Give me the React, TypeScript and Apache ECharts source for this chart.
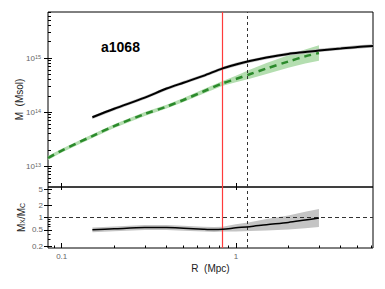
import React, { useEffect, useRef } from 'react';
import * as echarts from 'echarts';

// ---- axis extents / ticks ----
const X_MIN = 0.0834;
const X_MAX = 6.13;
const X_MAJOR = [0.1, 1];
const X_MINOR = [0.09, 0.2, 0.3, 0.4, 0.5, 0.6, 0.7, 0.8, 0.9, 2, 3, 4, 5, 6];
const Y_TOP_MIN = 4.1e12;
const Y_TOP_MAX = 7.1e15;
const Y_TOP_MAJOR = [1e13, 1e14, 1e15];
const Y_TOP_MINOR = [
  5e12, 6e12, 7e12, 8e12, 9e12,
  2e13, 3e13, 4e13, 5e13, 6e13, 7e13, 8e13, 9e13,
  2e14, 3e14, 4e14, 5e14, 6e14, 7e14, 8e14, 9e14,
  2e15, 3e15, 4e15, 5e15, 6e15, 7e15,
];
const Y_BOT_MIN = 0.18;
const Y_BOT_MAX = 5.6;
const Y_BOT_MAJOR = [0.2, 0.5, 1, 2, 5];
const Y_BOT_MINOR = [0.3, 0.4, 0.6, 0.7, 0.8, 0.9, 3, 4];

// ---- reference lines ----
const R_RED = 0.838;
const R_DASH = 1.157;

// ---- X-ray mass (green dashed) ----
const R_X = [0.0834, 0.1, 0.15, 0.2, 0.3, 0.4, 0.5, 0.65, 0.84, 1.0, 1.2, 1.5, 2.0, 2.5, 3.0];
const M_X = [1.41e13, 1.94e13, 3.6e13, 5.5e13, 9.2e13, 1.26e14, 1.67e14, 2.4e14, 3.4e14, 4.08e14, 5.0e14, 6.4e14, 8.6e14, 1.07e15, 1.24e15];
const M_X_LO = [1.3e13, 1.79e13, 3.32e13, 5.08e13, 8.49e13, 1.16e14, 1.54e14, 2.19e14, 3.07e14, 3.55e14, 4.11e14, 5.08e14, 6.6e14, 7.93e14, 8.88e14];
const M_X_HI = [1.53e13, 2.1e13, 3.9e13, 5.96e13, 9.97e13, 1.37e14, 1.81e14, 2.63e14, 3.77e14, 4.68e14, 6.08e14, 8.06e14, 1.12e15, 1.44e15, 1.73e15];

// ---- caustic mass (black) ----
const R_C = [0.15, 0.2, 0.3, 0.4, 0.5, 0.65, 0.84, 1.0, 1.2, 1.5, 2.0, 2.5, 3.0, 4.0, 5.0, 6.13];
const M_C = [8.0e13, 1.15e14, 1.85e14, 2.72e14, 3.49e14, 4.66e14, 6.44e14, 7.58e14, 8.8e14, 1.02e15, 1.19e15, 1.29e15, 1.38e15, 1.5e15, 1.6e15, 1.67e15];
const M_C_LO = [7.46e13, 1.07e14, 1.73e14, 2.54e14, 3.26e14, 4.35e14, 6.01e14, 7.07e14, 8.21e14, 9.52e14, 1.11e15, 1.2e15, 1.29e15, 1.4e15, 1.49e15, 1.56e15];
const M_C_HI = [8.58e13, 1.23e14, 1.98e14, 2.92e14, 3.74e14, 5.0e14, 6.9e14, 8.13e14, 9.43e14, 1.09e15, 1.28e15, 1.38e15, 1.48e15, 1.61e15, 1.72e15, 1.79e15];

// ---- ratio Mx / Mc ----
const R_RATIO = [0.15, 0.2, 0.3, 0.4, 0.5, 0.65, 0.75, 0.84, 1.0, 1.2, 1.5, 2.0, 2.5, 3.0];
const RATIO = [0.5, 0.53, 0.57, 0.57, 0.55, 0.52, 0.51, 0.52, 0.56, 0.6, 0.67, 0.76, 0.87, 0.97];
const RATIO_LO = [0.435, 0.462, 0.496, 0.496, 0.479, 0.453, 0.444, 0.453, 0.455, 0.466, 0.485, 0.514, 0.549, 0.585];
const RATIO_HI = [0.574, 0.608, 0.654, 0.654, 0.631, 0.597, 0.585, 0.597, 0.689, 0.773, 0.925, 1.124, 1.379, 1.61];

const FONT = 'Liberation Sans, Arial, Helvetica, sans-serif';
const LABEL_COLOR = '#666';

function pairs(xs: number[], ys: number[]) {
  return xs.map((x, i) => [x, ys[i]]);
}

function bandSeries(xs: number[], lo: number[], hi: number[], color: string, xi: number, yi: number) {
  return {
    type: 'custom', xAxisIndex: xi, yAxisIndex: yi, silent: true, z: 1,
    data: [[xs[0], lo[0]]],
    renderItem: (_params: any, api: any) => {
      const upper = xs.map((x, i) => api.coord([x, hi[i]]));
      const lower = xs.map((x, i) => api.coord([x, lo[i]])).reverse();
      return {
        type: 'polygon',
        shape: { points: upper.concat(lower) },
        style: { fill: color, stroke: 'none' },
      };
    },
  };
}

const vLines = () => [
  { xAxis: R_RED, lineStyle: { color: '#ff3b3b', width: 1.2, type: 'solid' } },
  { xAxis: R_DASH, lineStyle: { color: '#333', width: 1, type: [3, 3] } },
];

export default function App() {
  const ref = useRef<HTMLDivElement>(null);
  useEffect(() => {
    if (!ref.current) return;
    const chart = echarts.init(ref.current, null, { renderer: 'svg' });
    const tickLine = { color: '#000', width: 1 };
    const supLabel = {
      fontSize: 8, color: LABEL_COLOR, fontFamily: FONT,
      rich: {
        b: { fontSize: 8, color: LABEL_COLOR, fontFamily: FONT },
        s: { fontSize: 5.5, color: LABEL_COLOR, fontFamily: FONT, verticalAlign: 'top' },
      },
    };
    const option: any = {
      animation: false,
      textStyle: { fontFamily: FONT },
      title: {
        text: 'a1068', left: 96, top: 35,
        textStyle: { fontSize: 14, fontWeight: 'bold', color: '#000', fontFamily: FONT },
      },
      grid: [
        { left: 48, top: 12, right: 12, height: 175, show: true, borderColor: '#000', borderWidth: 1, backgroundColor: 'transparent', outerBoundsMode: 'none' },
        { left: 48, top: 187, right: 12, height: 61, show: true, borderColor: '#000', borderWidth: 1, backgroundColor: 'transparent', outerBoundsMode: 'none' },
      ],
      xAxis: [
        {
          gridIndex: 0, type: 'log', logBase: 10, min: X_MIN, max: X_MAX, position: 'bottom',
          axisLine: { show: false }, splitLine: { show: false },
          axisTick: { show: true, inside: true, length: 4, customValues: X_MAJOR, lineStyle: tickLine },
          axisLabel: { show: false },
        },
        {
          gridIndex: 1, type: 'log', logBase: 10, min: X_MIN, max: X_MAX, position: 'bottom',
          axisLine: { show: false }, splitLine: { show: false },
          axisTick: { show: true, inside: true, length: 5, customValues: X_MAJOR, lineStyle: tickLine },
          axisLabel: {
            show: true, customValues: X_MAJOR, margin: 4, fontSize: 8, color: LABEL_COLOR, fontFamily: FONT,
            formatter: (v: number) => (v >= 1 ? String(Math.round(v)) : String(Math.round(v * 10) / 10)),
          },
          name: 'R  (Mpc)', nameLocation: 'middle', nameGap: 15,
          nameTextStyle: { fontSize: 10, color: '#222', fontFamily: FONT },
        },
        {
          gridIndex: 1, type: 'log', logBase: 10, min: X_MIN, max: X_MAX, position: 'bottom',
          axisLine: { show: false }, splitLine: { show: false },
          axisTick: { show: true, inside: true, length: 2.5, customValues: X_MINOR, lineStyle: tickLine },
          axisLabel: { show: false },
        },
        {
          gridIndex: 1, type: 'log', logBase: 10, min: X_MIN, max: X_MAX, position: 'top',
          axisLine: { show: false }, splitLine: { show: false },
          axisTick: { show: true, inside: true, length: 3, customValues: X_MAJOR, lineStyle: tickLine },
          axisLabel: { show: false },
        },
      ],
      yAxis: [
        {
          gridIndex: 0, type: 'log', logBase: 10, min: Y_TOP_MIN, max: Y_TOP_MAX, position: 'left', offset: -4,
          axisLine: { show: false }, splitLine: { show: false },
          axisTick: { show: true, inside: false, length: 8, customValues: Y_TOP_MAJOR, lineStyle: tickLine },
          axisLabel: {
            ...supLabel, show: true, customValues: Y_TOP_MAJOR, margin: 11,
            formatter: (v: number) => '{b|10}{s|' + Math.round(Math.log10(v)) + '}',
          },
        },
        {
          gridIndex: 0, type: 'log', logBase: 10, min: Y_TOP_MIN, max: Y_TOP_MAX, position: 'left',
          axisLine: { show: false }, splitLine: { show: false },
          axisTick: { show: true, inside: true, length: 3, customValues: Y_TOP_MINOR, lineStyle: tickLine },
          axisLabel: { show: false },
          name: 'M  (Msol)', nameLocation: 'middle', nameGap: 24,
          nameTextStyle: { fontSize: 10, color: '#222', fontFamily: FONT },
        },
        {
          gridIndex: 1, type: 'log', logBase: 10, min: Y_BOT_MIN, max: Y_BOT_MAX, position: 'left', offset: -4,
          axisLine: { show: false }, splitLine: { show: false },
          axisTick: { show: true, inside: false, length: 8, customValues: Y_BOT_MAJOR, lineStyle: tickLine },
          axisLabel: {
            show: true, customValues: Y_BOT_MAJOR, margin: 9, fontSize: 8, color: LABEL_COLOR, fontFamily: FONT,
            formatter: (v: number) => String(Math.round(v * 10) / 10),
          },
        },
        {
          gridIndex: 1, type: 'log', logBase: 10, min: Y_BOT_MIN, max: Y_BOT_MAX, position: 'left',
          axisLine: { show: false }, splitLine: { show: false },
          axisTick: { show: true, inside: true, length: 2.5, customValues: Y_BOT_MINOR, lineStyle: tickLine },
          axisLabel: { show: false },
          name: 'M{s|X}/M{s|C}', nameLocation: 'middle', nameGap: 22,
          nameTextStyle: {
            fontSize: 10, color: '#222', fontFamily: FONT,
            rich: { s: { fontSize: 7, color: '#222', fontFamily: FONT, verticalAlign: 'bottom' } },
          },
        },
      ],
      series: [
        bandSeries(R_X, M_X_LO, M_X_HI, '#b4deb0', 0, 0),
        bandSeries(R_C, M_C_LO, M_C_HI, '#bdbdbd', 0, 0),
        bandSeries(R_RATIO, RATIO_LO, RATIO_HI, '#c4c4c4', 1, 2),
        {
          name: 'Mc', type: 'line', xAxisIndex: 0, yAxisIndex: 0, data: pairs(R_C, M_C),
          symbol: 'none', smooth: 0.3, lineStyle: { color: '#000', width: 2 }, z: 3,
          markLine: { silent: true, symbol: ['none', 'none'], label: { show: false }, data: vLines(), z: 2 },
        },
        {
          name: 'Mx', type: 'line', xAxisIndex: 0, yAxisIndex: 0, data: pairs(R_X, M_X),
          symbol: 'none', smooth: 0.3, lineStyle: { color: '#2b8a2b', width: 2.5, type: [7, 5] }, z: 4,
        },
        {
          name: 'ratio', type: 'line', xAxisIndex: 1, yAxisIndex: 2, data: pairs(R_RATIO, RATIO),
          symbol: 'none', smooth: 0.3, lineStyle: { color: '#000', width: 1.5 }, z: 3,
          markLine: {
            silent: true, symbol: ['none', 'none'], label: { show: false }, z: 2,
            data: [...vLines(), { yAxis: 1, lineStyle: { color: '#333', width: 1, type: [4, 3] } }],
          },
        },
      ],
    };
    chart.setOption(option);
    return () => chart.dispose();
  }, []);
  return <div ref={ref} style={{ position: 'fixed', left: 0, top: 0, width: 385, height: 289, background: '#fff' }} />;
}
